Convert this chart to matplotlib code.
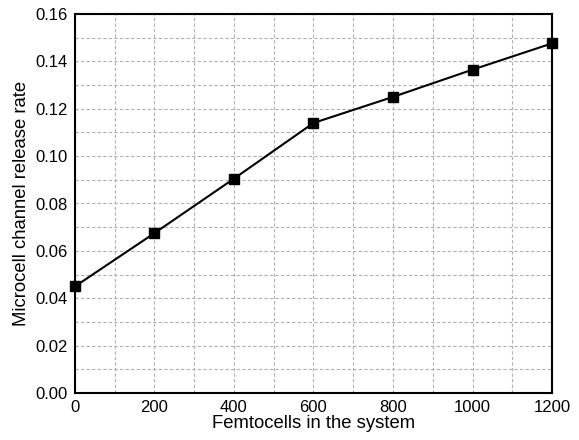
import matplotlib.pyplot as plt
from matplotlib.ticker import MultipleLocator

plt.rcParams['font.family'] = ['Liberation Sans', 'DejaVu Sans']

# data
femtocells = [0, 200, 400, 600, 800, 1000, 1200]
release_rate = [0.045, 0.0675, 0.0905, 0.114, 0.125, 0.1365, 0.1476]

fig = plt.figure(figsize=(5.79, 4.4), dpi=100)
ax = fig.add_axes([0.1295, 0.1068, 0.8239, 0.8614])

ax.plot(femtocells, release_rate, color='black', linewidth=1.5,
        marker='s', markersize=6.5, clip_on=False, zorder=3)

ax.set_xlim(0, 1200)
ax.set_ylim(0, 0.16)
ax.xaxis.set_major_locator(MultipleLocator(200))
ax.xaxis.set_minor_locator(MultipleLocator(100))
ax.yaxis.set_major_locator(MultipleLocator(0.02))
ax.yaxis.set_minor_locator(MultipleLocator(0.01))
ax.yaxis.set_major_formatter(plt.FormatStrFormatter('%.2f'))
ax.tick_params(which='both', length=0, labelsize=12, pad=5)

ax.grid(True, which='both', color='#b0b0b0', linestyle=(0, (3, 2)), linewidth=0.8)
for s in ax.spines.values():
    s.set_linewidth(1.5)

ax.set_xlabel('Femtocells in the system', fontsize=13.3, labelpad=0)
ax.set_ylabel('Microcell channel release rate', fontsize=13.3, labelpad=4)

plt.savefig('out.png', dpi=100)
